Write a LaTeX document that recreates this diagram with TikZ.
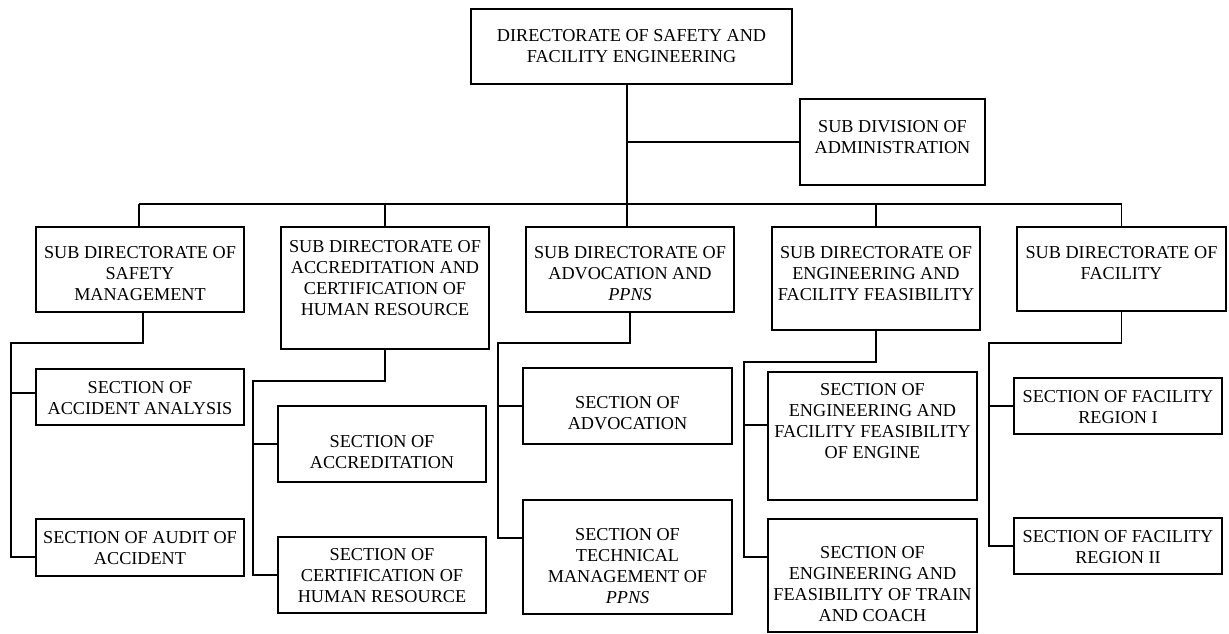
\documentclass[tikz,border=0pt]{standalone}
\usepackage{fontspec}
\setmainfont{Liberation Serif}
\usetikzlibrary{fit}
\begin{document}
\begin{tikzpicture}[x=1pt,y=-1pt,
  unit/.style={draw, line width=1.3pt, inner sep=0pt, fit={#1}},
  caption/.style={align=center, inner sep=0pt, font=\fontsize{18.2}{21}\selectfont},
  link/.style={line width=1.3pt}]
\useasboundingbox (0,0) rectangle (1229,633);

% boxes
\node[unit={(471,9) (792,84)}]    (top)    {};
\node[unit={(800,99) (985,185)}]  (admin)  {};
\node[unit={(36,227) (244,312)}]  (smb)    {};
\node[unit={(281,227) (489,349)}] (accred) {};
\node[unit={(526,227) (734,312)}] (advoc)  {};
\node[unit={(772,227) (980,330)}] (eng)    {};
\node[unit={(1017,227) (1226,311)}] (fac)  {};
\node[unit={(36,369) (244,425)}]  (s11) {};
\node[unit={(36,519) (244,576)}]  (s12) {};
\node[unit={(278,406) (486,482)}] (s21) {};
\node[unit={(278,537) (486,613)}] (s22) {};
\node[unit={(523,368) (732,444)}] (s31) {};
\node[unit={(523,500) (732,614)}] (s32) {};
\node[unit={(768,372) (977,500)}] (s41) {};
\node[unit={(768,519) (977,632)}] (s42) {};
\node[unit={(1014,378) (1222,434)}] (s51) {};
\node[unit={(1014,518) (1222,574)}] (s52) {};

% texts
\node[caption] (top-t)    at (631.5,46.5) {DIRECTORATE OF SAFETY AND\\FACILITY ENGINEERING};
\node[caption] (admin-t)  at (892.5,137) {SUB DIVISION OF\\ADMINISTRATION};
\node[caption] (smb-t)    at (140,274) {SUB DIRECTORATE OF\\SAFETY\\MANAGEMENT};
\node[caption] (accred-t) at (385,278.5) {SUB DIRECTORATE OF\\ACCREDITATION AND\\CERTIFICATION OF\\HUMAN RESOURCE};
\node[caption] (advoc-t)  at (630,274) {SUB DIRECTORATE OF\\ADVOCATION AND\\\textit{PPNS}};
\node[caption] (eng-t)    at (876,274) {SUB DIRECTORATE OF\\ENGINEERING AND\\FACILITY FEASIBILITY};
\node[caption] (fac-t)    at (1121.5,263.5) {SUB DIRECTORATE OF\\FACILITY};
\node[caption] (s11-t) at (140,398.5) {SECTION OF\\ACCIDENT ANALYSIS};
\node[caption] (s12-t) at (140,548.5) {SECTION OF AUDIT OF\\ACCIDENT};
\node[caption] (s21-t) at (382,452) {SECTION OF\\ACCREDITATION};
\node[caption] (s22-t) at (382,576) {SECTION OF\\CERTIFICATION OF\\HUMAN RESOURCE};
\node[caption] (s31-t) at (627.5,413) {SECTION OF\\ADVOCATION};
\node[caption] (s32-t) at (627.5,566.5) {SECTION OF\\TECHNICAL\\MANAGEMENT OF\\\textit{PPNS}};
\node[caption] (s41-t) at (872.5,421.5) {SECTION OF\\ENGINEERING AND\\FACILITY FEASIBILITY\\OF ENGINE};
\node[caption] (s42-t) at (872.5,584.5) {SECTION OF\\ENGINEERING AND\\FEASIBILITY OF TRAIN\\AND COACH};
\node[caption] (s51-t) at (1118,407.5) {SECTION OF FACILITY\\REGION I};
\node[caption] (s52-t) at (1118,547.5) {SECTION OF FACILITY\\REGION II};

% junction points
\coordinate (bus) at (627,204);
\coordinate (k1) at (11,343);
\coordinate (k2) at (253,381);
\coordinate (k3) at (498,343);
\coordinate (k4) at (744,362);
\coordinate (k5) at (989,343);

% main trunk, administration branch and bus
\draw[link] (top.south -| bus) -- (advoc.north -| bus);
\draw[link] (admin.west -| bus) -- (admin.west);
\draw[link] ([xshift=-1pt]smb.north |- bus) -- (fac.north |- bus);
\draw[link] ([xshift=-1pt]smb.north |- bus) -- ([xshift=-1pt]smb.north);
\draw[link] (accred.north |- bus) -- (accred.north);
\draw[link] (eng.north |- bus) -- (eng.north);
\draw[link] (fac.north |- bus) -- (fac.north);

% safety management sections
\draw[link] ([xshift=3pt]smb.south) |- (k1) |- ([yshift=-9.5pt]s12.west);
\draw[link] ([yshift=4pt]s11.west) -| (k1);

% accreditation sections
\draw[link] (accred.south) |- (k2) |- (s22.west);
\draw[link] (s21.west) -| (k2);

% advocation sections
\draw[link] (advoc.south) |- (k3) |- ([yshift=19pt]s32.west);
\draw[link] (s31.west) -| (k3);

% engineering sections
\draw[link] (eng.south) |- (k4) |- ([yshift=18.5pt]s42.west);
\draw[link] ([yshift=11pt]s41.west) -| (k4);

% facility sections
\draw[link] (fac.south) |- (k5) |- (s52.west);
\draw[link] (s51.west) -| (k5);
\end{tikzpicture}
\end{document}
